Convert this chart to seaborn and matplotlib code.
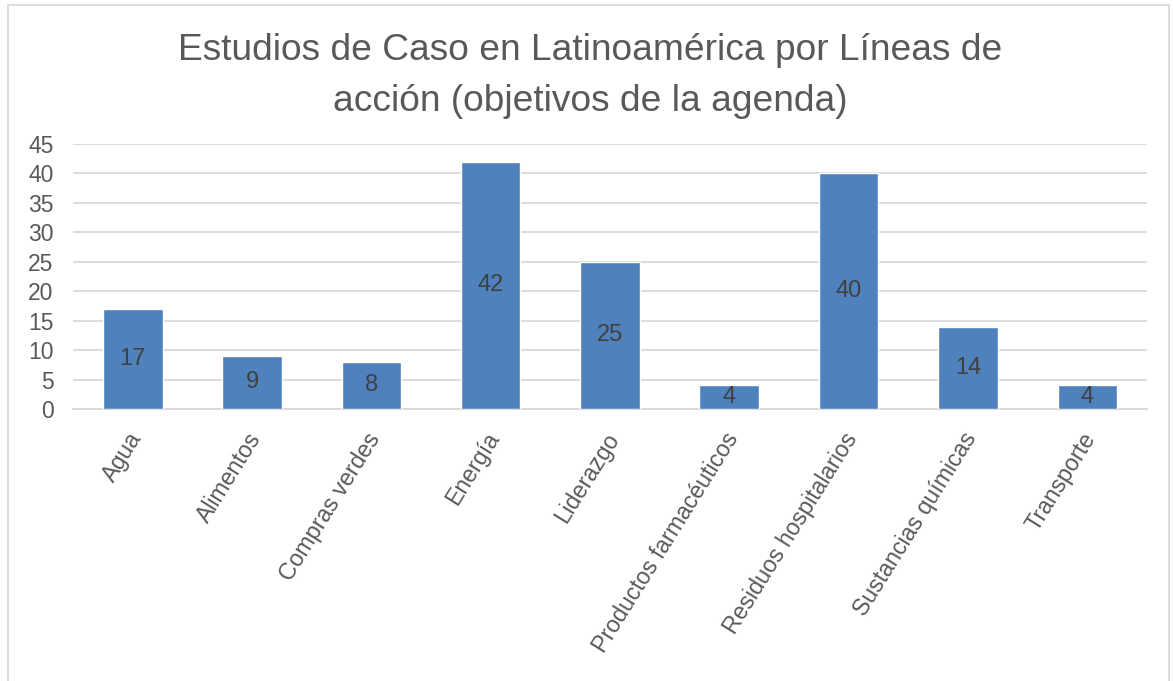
import matplotlib
matplotlib.use("Agg")
import matplotlib.pyplot as plt
import matplotlib.transforms as mtransforms
import seaborn as sns
import pandas as pd
import numpy as np
from matplotlib.patches import Rectangle

categories = ["Agua", "Alimentos", "Compras verdes", "Energía", "Liderazgo",
              "Productos farmacéuticos", "Residuos hospitalarios",
              "Sustancias químicas", "Transporte"]
values = [17, 9, 8, 42, 25, 4, 40, 14, 4]
title_lines = ["Estudios de Caso en Latinoamérica por Líneas de",
               "acción (objetivos de la agenda)"]

sns.set_theme(style="white")
plt.rcParams['font.family'] = ['Liberation Sans', 'DejaVu Sans']

df = pd.DataFrame({"cat": categories, "val": values})

W, H = 1173, 681
fig = plt.figure(figsize=(W / 100, H / 100), dpi=100)
ax = fig.add_axes([73 / W, 1 - 409 / H, (1147 - 73) / W, (409 - 144) / H])

sns.barplot(data=df, x="cat", y="val", color="#4F81BD", width=0.5,
            saturation=1, ax=ax, zorder=3)

ax.set_ylim(0, 45)
ax.set_xlim(-0.5, len(categories) - 0.5)
ax.set_yticks(range(0, 46, 5))
ax.yaxis.grid(True, color="#D9D9D9", linewidth=1.3, zorder=0)
ax.set_axisbelow(True)
for s in ["top", "right", "left"]:
    ax.spines[s].set_visible(False)
ax.spines["bottom"].set_color("#D9D9D9")
ax.spines["bottom"].set_linewidth(1.3)
ax.set_xlabel("")
ax.set_ylabel("")

ax.tick_params(axis="y", length=0, labelsize=16.5, labelcolor="#595959", pad=14)
ax.tick_params(axis="x", which="major", length=0, labelsize=16.7,
               labelcolor="#595959", pad=14)
ax.set_xticks(np.arange(-0.5, len(categories), 1.0), minor=True)
ax.tick_params(axis="x", which="minor", length=5, color="#D9D9D9", width=1.3)
ax.set_xticklabels(categories, rotation=58, ha="right", rotation_mode="anchor")
offset = mtransforms.ScaledTranslation(-6 / 100, 0, fig.dpi_scale_trans)
for lbl in ax.get_xticklabels():
    lbl.set_transform(lbl.get_transform() + offset)

for i, v in enumerate(values):
    ax.text(i, v / 2, str(v), ha="center", va="center", fontsize=17,
            color="#404040", zorder=4)

fig.text(590 / W, 1 - 60 / H, title_lines[0], ha="center", va="baseline",
         fontsize=26.7, color="#595959")
fig.text(590 / W, 1 - 111 / H, title_lines[1], ha="center", va="baseline",
         fontsize=26.7, color="#595959")

fig.patches.append(Rectangle((8 / W, -0.05), (1169 - 8) / W, 1 - 5 / H + 0.05,
                             transform=fig.transFigure, fill=False,
                             edgecolor="#D9D9D9", linewidth=1.3))

fig.savefig("out.png", dpi=100)
